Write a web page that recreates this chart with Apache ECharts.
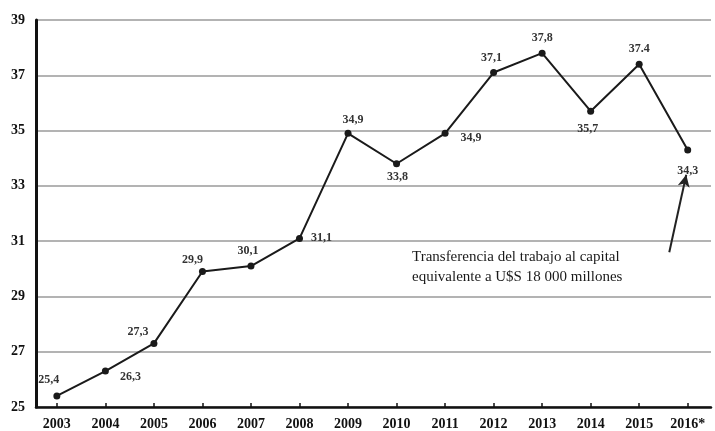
<!DOCTYPE html>
<html><head><meta charset="utf-8">
<script src="https://cdn.jsdelivr.net/npm/echarts@6/dist/echarts.min.js"></script>
<style>html,body{margin:0;padding:0;background:#fff}#c{width:715px;height:431px}</style>
</head><body><div id="c"></div>
<script>
const years = [2003,2004,2005,2006,2007,2008,2009,2010,2011,2012,2013,2014,2015,2016];
const values = [25.4,26.3,27.3,29.9,30.1,31.1,34.9,33.8,34.9,37.1,37.8,35.7,37.4,34.3];
const pointLabels = ["25,4","26,3","27,3","29,9","30,1","31,1","34,9","33,8","34,9","37,1","37,8","35,7","37.4","34,3"];
const yTicks = [25,27,29,31,33,35,37,39];
const xTickLabels = {2016: "2016*"};
const noteLines = ["Transferencia del trabajo al capital", "equivalente a U$S 18 000 millones"];

// label placement (style only)
const labelOffsets = [[-8,-16],[25,6],[-16,-12],[-10,-12],[-3,-15],[22,0],[5,-13],[1,13],[26,5],[-2,-15],[0,-15],[-3,18],[0,-15],[0,21]];

const serif = '"Liberation Serif","DejaVu Serif",serif';
const chart = echarts.init(document.getElementById('c'));
chart.setOption({
  backgroundColor: '#fff',
  animation: false,
  grid: {left: 36, right: 4, top: 20, bottom: 24},
  xAxis: {
    type: 'value', min: 2002.57, max: 2016.48,
    axisLine: {show: true, lineStyle: {color: '#111', width: 2.5}},
    axisTick: {show: true, inside: true, length: 4, customValues: years, lineStyle: {color: '#111', width: 1.5}},
    axisLabel: {customValues: years, color: '#111', fontFamily: serif, fontWeight: 'bold', fontSize: 14, margin: 10,
      formatter: v => xTickLabels[v] || String(v)},
    splitLine: {show: false}
  },
  yAxis: {
    type: 'value', min: yTicks[0], max: yTicks[yTicks.length-1], interval: 2,
    axisLine: {show: true, lineStyle: {color: '#111', width: 3}},
    axisTick: {show: false},
    axisLabel: {color: '#111', fontFamily: serif, fontWeight: 'bold', fontSize: 14, margin: 11},
    splitLine: {show: true, lineStyle: {color: '#9a9a9a', width: 1.5}}
  },
  series: [{
    type: 'line',
    data: years.map((y, i) => ({
      value: [y, values[i]],
      label: {show: true, position: 'inside', offset: labelOffsets[i],
        formatter: () => pointLabels[i]}
    })),
    symbol: 'circle', symbolSize: 7,
    itemStyle: {color: '#1a1a1a'},
    lineStyle: {color: '#1a1a1a', width: 2},
    label: {color: '#333', fontFamily: serif, fontWeight: 'bold', fontSize: 12},
    markLine: {
      silent: true, symbol: ['none', 'arrow'], symbolSize: [9, 12],
      lineStyle: {color: '#222', width: 2, type: 'solid'},
      label: {show: false},
      data: [[{coord: [2015.62, 30.6]}, {coord: [2015.97, 33.4]}]]
    }
  }],
  graphic: [{
    type: 'text', left: 412, top: 247,
    style: {text: noteLines.join('\n'), font: '15px ' + serif, fill: '#1a1a1a', lineHeight: 20, textAlign: 'left'}
  }]
});
</script></body></html>
